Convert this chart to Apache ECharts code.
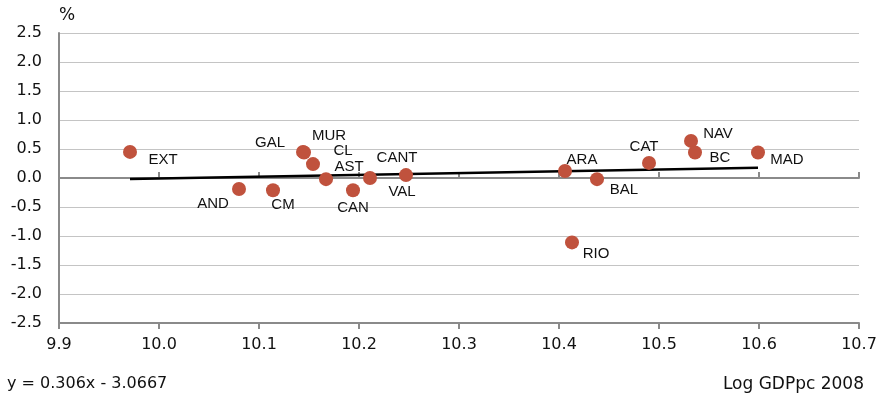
<!DOCTYPE html>
<html>
<head>
<meta charset="utf-8">
<script src="https://cdn.jsdelivr.net/npm/echarts@6/dist/echarts.min.js"></script>
<style>
  html, body { margin: 0; padding: 0; background: #fff; }
  #chart { width: 877px; height: 396px; }
</style>
</head>
<body>
<div id="chart"></div>
<script>
// Regional growth (%) against log GDP per capita, 2008
const regions = ['EXT', 'AND', 'CM', 'GAL', 'MUR', 'CL', 'AST', 'CAN', 'CANT', 'VAL', 'ARA', 'RIO', 'BAL', 'CAT', 'NAV', 'BC', 'MAD'];
const logGdp  = [9.971, 10.080, 10.114, 10.144, 10.145, 10.154, 10.167, 10.194, 10.211, 10.247, 10.406, 10.413, 10.438, 10.490, 10.532, 10.536, 10.599];
const growth  = [0.45, -0.19, -0.21, 0.45, 0.44, 0.24, -0.02, -0.21, 0.00, 0.05, 0.12, -1.11, -0.02, 0.26, 0.64, 0.44, 0.44];

// Linear trend: y = slope * x + intercept
const slope = 0.306;
const intercept = -3.0667;

// Axis ranges
const xMin = 9.9, xMax = 10.7, xStep = 0.1;
const yMin = -2.5, yMax = 2.5, yStep = 0.5;

// Label placement next to each marker (text centre offset in px)
const labelOffset = {
  EXT: [33, 8], AND: [-26, 15], CM: [10, 15], GAL: [-33, -9], MUR: [25, -17],
  CL: [30, -13], AST: [23, -12], CAN: [0, 18], CANT: [27, -20], VAL: [-4, 17],
  ARA: [17, -11], RIO: [24, 11], BAL: [27, 11], CAT: [-5, -16], NAV: [27, -7],
  BC: [25, 5], MAD: [29, 7]
};

const FONT = '"Liberation Sans", Arial, Helvetica, sans-serif';
const AXIS_FONT = '"DejaVu Sans", "Liberation Sans", sans-serif';
const TEXT = '#111';
const AXIS = '#8a8a8a';

const points = regions.map((r, i) => ({
  name: r,
  value: [logGdp[i], growth[i]],
  label: { offset: labelOffset[r] }
}));

const lo = Math.min(...logGdp), hi = Math.max(...logGdp);
const trend = [[lo, slope * lo + intercept], [hi, slope * hi + intercept]];

const chart = echarts.init(document.getElementById('chart'), null, { renderer: 'canvas' });
chart.setOption({
  animation: false,
  backgroundColor: '#fff',
  grid: { left: 59, right: 18, top: 33, bottom: 73, containLabel: false, outerBoundsMode: 'none' },
  xAxis: [
    {
      // labels along the bottom edge
      type: 'value', min: xMin, max: xMax, interval: xStep, position: 'bottom',
      axisLine: { show: false, onZero: false },
      axisTick: { show: false },
      splitLine: { show: false },
      axisLabel: {
        margin: 14, fontSize: 16, color: TEXT, fontFamily: AXIS_FONT,
        formatter: v => v.toFixed(1)
      }
    },
    {
      // zero line, ticks pointing up
      type: 'value', min: xMin, max: xMax, interval: xStep, position: 'top',
      axisLine: { show: true, onZero: true, lineStyle: { color: AXIS, width: 2 } },
      axisTick: { show: true, length: 6, lineStyle: { color: AXIS, width: 2 } },
      axisLabel: { show: false },
      splitLine: { show: false }
    },
    {
      // zero line, ticks pointing down
      type: 'value', min: xMin, max: xMax, interval: xStep, position: 'bottom',
      axisLine: { show: true, onZero: true, lineStyle: { color: AXIS, width: 2 } },
      axisTick: { show: true, length: 6, lineStyle: { color: AXIS, width: 2 } },
      axisLabel: { show: false },
      splitLine: { show: false }
    }
  ],
  yAxis: {
    type: 'value', min: yMin, max: yMax, interval: yStep,
    axisLine: { show: true, onZero: false, lineStyle: { color: AXIS, width: 2 } },
    axisTick: { show: false },
    splitLine: { show: true, lineStyle: { color: '#c4c4c4', width: 1.2 } },
    axisLabel: {
      margin: 17, fontSize: 16, color: TEXT, fontFamily: AXIS_FONT,
      formatter: v => v.toFixed(1)
    }
  },
  graphic: [
    { type: 'text', left: 59, top: 7, style: { text: '%', fontSize: 17, fill: TEXT, fontFamily: AXIS_FONT } },
    {
      type: 'text', left: 7, top: 376,
      style: { text: 'y = ' + slope + 'x - ' + Math.abs(intercept), fontSize: 16, fill: TEXT, fontFamily: AXIS_FONT }
    },
    { type: 'text', right: 13, top: 376, style: { text: 'Log GDPpc 2008', fontSize: 17, fill: TEXT, fontFamily: AXIS_FONT } }
  ],
  series: [
    {
      type: 'line', xAxisIndex: 0, data: trend, showSymbol: false, symbol: 'none',
      lineStyle: { color: '#000', width: 2.5 }, z: 3, silent: true
    },
    {
      type: 'scatter', xAxisIndex: 0, data: points, symbolSize: 14,
      itemStyle: { color: '#c0523d', opacity: 1 }, z: 4,
      label: {
        show: true, position: 'inside', formatter: p => p.name,
        fontSize: 15, color: TEXT, fontFamily: FONT
      }
    }
  ]
});
</script>
</body>
</html>
